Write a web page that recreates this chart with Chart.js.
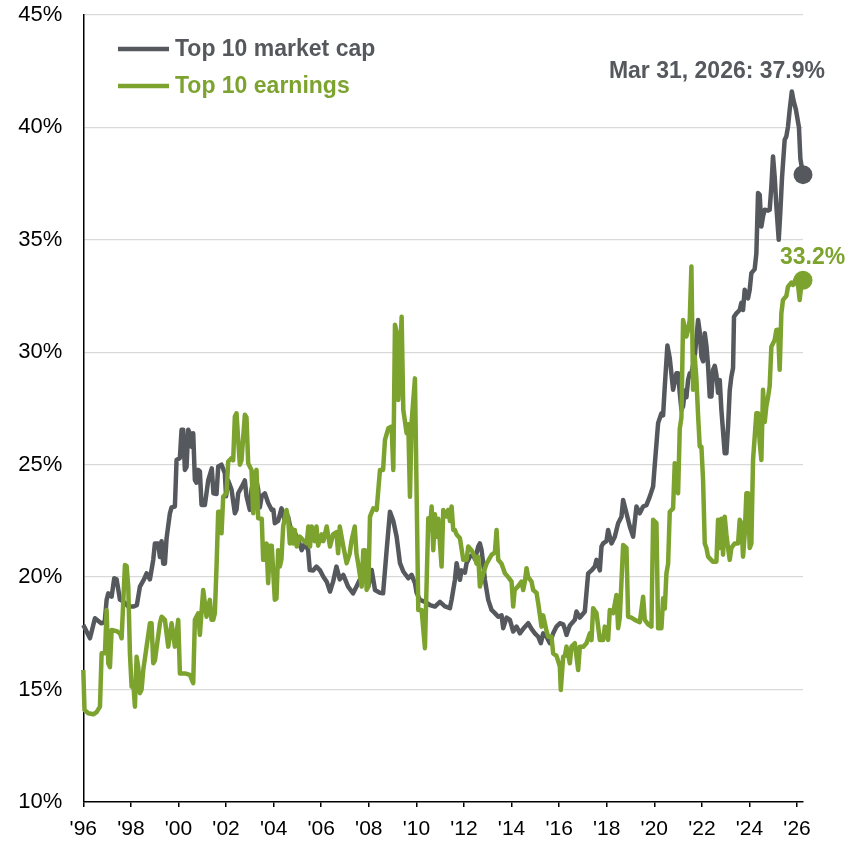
<!DOCTYPE html>
<html>
<head>
<meta charset="utf-8">
<script src="https://cdn.jsdelivr.net/npm/chart.js@4.4.1/dist/chart.umd.min.js"></script>
<style>
  body { margin: 0; background: #fff; }
  #wrap { width: 857px; height: 842px; }
</style>
</head>
<body>
<div id="wrap"><canvas id="topTenChart" width="857" height="842"></canvas></div>
<script>
// series names and end-of-series label
const seriesNames = ["Top 10 market cap", "Top 10 earnings"];
const endDate = "Mar 31, 2026";

// x axis tick years
const tickYears = [1996, 1998, 2000, 2002, 2004, 2006, 2008, 2010, 2012, 2014, 2016, 2018, 2020, 2022, 2024, 2026];
// y axis tick values (%)
const tickPercents = [10, 15, 20, 25, 30, 35, 40, 45];

// top 10 share of market cap (%)
const capYears = [
  1996.00,1996.28,1996.49,1996.75,1996.90,1996.98,1997.05,1997.19,1997.30,1997.40,1997.54,1997.70,1997.90,1998.10,1998.25,1998.38,1998.55,1998.66,1998.80,1998.94,
  1999.01,1999.15,1999.22,1999.29,1999.36,1999.43,1999.50,1999.64,1999.71,1999.85,1999.92,2000.06,2000.13,2000.20,2000.27,2000.34,2000.41,2000.48,2000.55,2000.62,
  2000.69,2000.76,2000.83,2000.90,2000.97,2001.11,2001.25,2001.40,2001.47,2001.60,2001.67,2001.81,2001.95,2002.00,2002.09,2002.23,2002.37,2002.44,2002.51,2002.65,
  2002.79,2002.86,2003.00,2003.07,2003.21,2003.35,2003.42,2003.50,2003.63,2003.77,2003.92,2003.99,2004.05,2004.19,2004.33,2004.47,2004.61,2004.75,2004.90,2005.04,
  2005.18,2005.31,2005.45,2005.52,2005.66,2005.80,2005.95,2006.09,2006.23,2006.37,2006.50,2006.64,2006.78,2006.93,2007.13,2007.34,2007.49,2007.62,2007.84,2007.98,
  2008.12,2008.26,2008.47,2008.60,2008.75,2008.89,2009.03,2009.17,2009.31,2009.45,2009.66,2009.80,2009.94,2010.01,2010.15,2010.36,2010.57,2010.78,2010.99,2011.20,
  2011.41,2011.48,2011.62,2011.69,2011.83,2011.90,2012.04,2012.11,2012.25,2012.39,2012.46,2012.60,2012.67,2012.74,2012.81,2012.88,2013.02,2013.16,2013.30,2013.44,
  2013.58,2013.65,2013.79,2013.93,2014.07,2014.21,2014.35,2014.49,2014.70,2014.84,2014.98,2015.12,2015.23,2015.33,2015.47,2015.61,2015.75,2015.89,2016.03,2016.17,
  2016.24,2016.31,2016.45,2016.66,2016.73,2016.87,2017.08,2017.22,2017.36,2017.50,2017.57,2017.71,2017.78,2017.85,2017.99,2018.06,2018.20,2018.34,2018.48,2018.62,
  2018.69,2018.83,2018.97,2019.11,2019.25,2019.39,2019.53,2019.67,2019.81,2019.95,2020.02,2020.16,2020.30,2020.37,2020.44,2020.55,2020.65,2020.79,2020.93,2021.00,
  2021.07,2021.14,2021.21,2021.28,2021.35,2021.42,2021.49,2021.56,2021.70,2021.77,2021.84,2021.91,2021.98,2022.05,2022.12,2022.19,2022.26,2022.33,2022.40,2022.47,
  2022.54,2022.61,2022.68,2022.75,2022.82,2022.96,2023.03,2023.10,2023.17,2023.24,2023.31,2023.35,2023.45,2023.59,2023.66,2023.73,2023.80,2023.87,2023.94,2024.01,
  2024.08,2024.22,2024.29,2024.36,2024.43,2024.50,2024.57,2024.64,2024.78,2024.85,2024.92,2024.99,2025.06,2025.13,2025.23,2025.30,2025.37,2025.48,2025.55,2025.62,
  2025.69,2025.78,2025.85,2025.95,2026.08,2026.14,2026.25
];
const capValues = [
  17.87,17.28,18.17,17.95,18.0,18.99,19.28,19.13,19.95,19.9,19.0,18.9,18.69,18.69,18.75,19.58,19.9,20.17,19.9,20.77,
  21.5,21.5,20.9,21.6,20.6,20.6,21.73,22.84,23.1,23.14,25.21,25.3,26.55,26.55,24.77,24.9,26.55,26.4,25.8,26.4,
  24.32,24.2,24.77,24.7,23.21,23.21,24.3,24.84,23.73,23.7,24.92,25.0,24.62,23.6,24.3,23.9,22.84,23.0,23.73,24.0,
  24.3,23.6,22.99,23.9,24.62,23.9,23.1,23.6,23.73,23.3,22.99,23.0,22.4,22.5,23.06,22.5,22.69,21.95,21.95,21.65,
  21.2,21.5,21.2,20.32,20.3,20.47,20.3,20.02,19.8,19.36,19.8,20.47,19.9,20.1,19.58,19.28,19.6,19.88,20.02,19.58,
  20.32,19.43,19.3,19.28,21.2,22.91,22.5,21.8,20.62,20.25,19.95,20.1,19.73,19.3,18.99,18.9,18.76,18.69,18.9,18.7,
  18.62,18.99,19.88,20.62,19.88,20.3,20.2,20.62,20.91,21.0,20.8,21.36,21.5,21.2,20.6,19.88,18.99,18.54,18.4,18.24,
  18.3,17.73,18.2,18.1,17.58,17.8,17.5,17.7,17.95,17.7,17.5,17.35,17.06,17.5,17.35,17.06,17.5,17.8,17.95,17.9,
  17.7,17.43,17.85,18.1,18.47,18.2,18.47,20.17,20.3,20.47,20.77,20.3,21.36,21.5,21.6,22.1,21.5,21.8,22.4,22.69,
  23.43,22.84,22.25,21.8,23.14,22.84,23.14,23.2,23.58,24.03,25.0,26.85,27.29,27.2,28.47,30.3,29.74,28.33,29.07,29.07,
  28.2,27.44,27.6,28.3,28.0,28.77,29.07,29.07,29.81,30.6,31.44,30.9,29.81,29.6,30.85,30.3,29.4,28.03,28.03,29.22,
  29.4,29.0,28.2,28.77,27.44,25.51,25.51,26.7,28.3,28.92,29.3,31.58,31.73,31.88,32.2,31.88,32.78,32.6,32.4,32.78,
  33.52,33.7,34.4,37.08,37.0,35.59,36.04,36.34,36.3,36.34,37.37,38.71,37.8,36.5,35.0,36.3,37.8,39.45,39.6,40.04,
  40.78,41.6,41.2,40.8,40.0,38.6,37.9
];

// top 10 share of earnings (%)
const earnYears = [
  1996.00,1996.05,1996.21,1996.42,1996.56,1996.70,1996.77,1996.91,1996.98,1997.05,1997.12,1997.19,1997.40,1997.54,1997.61,1997.75,1997.82,1997.89,1997.96,1998.03,
  1998.10,1998.17,1998.24,1998.31,1998.38,1998.45,1998.52,1998.66,1998.80,1998.87,1998.94,1999.01,1999.22,1999.29,1999.43,1999.57,1999.71,1999.85,1999.99,2000.06,
  2000.27,2000.48,2000.62,2000.69,2000.83,2000.90,2000.97,2001.04,2001.18,2001.25,2001.32,2001.39,2001.46,2001.53,2001.60,2001.67,2001.74,2001.81,2001.88,2002.02,
  2002.09,2002.23,2002.30,2002.37,2002.44,2002.51,2002.58,2002.65,2002.79,2002.86,2002.93,2003.07,2003.14,2003.21,2003.28,2003.35,2003.50,2003.56,2003.63,2003.70,
  2003.77,2003.84,2003.92,2004.05,2004.12,2004.19,2004.26,2004.33,2004.40,2004.54,2004.61,2004.68,2004.75,2004.82,2004.89,2004.97,2005.10,2005.24,2005.39,2005.46,
  2005.53,2005.60,2005.73,2005.80,2005.87,2006.02,2006.09,2006.23,2006.37,2006.50,2006.64,2006.71,2006.78,2006.93,2007.07,2007.20,2007.27,2007.41,2007.48,2007.55,
  2007.70,2007.77,2007.84,2007.91,2007.98,2008.05,2008.19,2008.33,2008.47,2008.60,2008.68,2008.82,2008.96,2009.03,2009.10,2009.17,2009.24,2009.38,2009.45,2009.59,
  2009.66,2009.73,2009.80,2009.94,2010.08,2010.22,2010.36,2010.50,2010.57,2010.64,2010.71,2010.78,2010.85,2010.92,2010.99,2011.06,2011.13,2011.27,2011.34,2011.41,
  2011.48,2011.55,2011.62,2011.69,2011.83,2011.97,2012.11,2012.18,2012.32,2012.46,2012.53,2012.60,2012.67,2012.81,2012.95,2013.16,2013.30,2013.37,2013.44,2013.58,
  2013.72,2013.86,2014.00,2014.07,2014.13,2014.28,2014.42,2014.49,2014.56,2014.63,2014.70,2014.84,2014.91,2015.05,2015.12,2015.26,2015.33,2015.47,2015.54,2015.68,
  2015.75,2015.89,2016.03,2016.07,2016.17,2016.24,2016.31,2016.45,2016.52,2016.66,2016.80,2016.87,2017.01,2017.15,2017.29,2017.36,2017.43,2017.57,2017.71,2017.85,
  2017.92,2018.06,2018.13,2018.27,2018.41,2018.48,2018.55,2018.69,2018.83,2018.90,2019.04,2019.18,2019.39,2019.53,2019.60,2019.74,2019.88,2019.95,2020.09,2020.16,
  2020.30,2020.37,2020.44,2020.51,2020.58,2020.65,2020.79,2020.86,2020.93,2021.00,2021.07,2021.14,2021.21,2021.35,2021.42,2021.49,2021.56,2021.63,2021.70,2021.77,
  2021.84,2021.91,2021.98,2022.05,2022.12,2022.19,2022.26,2022.46,2022.61,2022.68,2022.75,2022.82,2022.89,2022.96,2023.03,2023.10,2023.17,2023.24,2023.38,2023.52,
  2023.59,2023.66,2023.73,2023.80,2023.87,2023.94,2024.01,2024.08,2024.15,2024.29,2024.36,2024.43,2024.50,2024.57,2024.64,2024.71,2024.78,2024.85,2024.92,2025.06,
  2025.13,2025.20,2025.27,2025.34,2025.41,2025.55,2025.62,2025.76,2025.83,2025.97,2026.04,2026.11,2026.18,2026.25
];
const earnValues = [
  15.87,14.09,13.95,13.9,14.0,14.24,16.61,16.61,18.54,16.17,16.0,17.65,17.6,17.5,17.28,20.54,20.5,19.58,16.6,15.13,
  15.3,14.24,16.46,16.0,14.84,15.0,15.87,16.91,17.95,17.95,16.17,16.3,17.95,18.24,18.1,16.91,17.95,16.91,18.1,15.72,
  15.72,15.65,15.28,18.1,18.39,17.43,18.47,19.43,18.24,18.7,18.99,18.1,18.1,18.4,20.47,22.91,22.91,21.95,23.58,23.73,
  25.14,25.29,25.2,27.14,27.29,26.1,25.0,25.2,27.22,27.1,25.07,24.77,22.84,24.47,24.77,22.62,22.6,20.77,20.77,21.5,
  19.73,21.4,21.4,18.99,19.05,21.2,20.47,20.8,22.25,22.99,22.6,21.5,22.2,21.5,22.1,21.36,21.8,21.65,21.5,22.25,
  21.36,22.25,21.6,22.25,21.4,21.9,21.6,22.25,21.36,21.9,22.0,21.06,22.25,21.36,20.62,21.06,21.6,22.25,21.06,20.62,
  19.58,21.2,21.2,19.43,19.6,22.69,23.06,22.99,24.77,24.77,26.1,26.62,26.7,24.77,31.22,30.9,27.88,31.58,27.44,26.4,
  26.8,23.58,26.9,28.84,18.54,18.54,16.84,22.62,22.1,23.14,21.2,22.8,21.8,22.6,21.5,20.47,22.99,22.7,22.99,22.5,
  23.14,22.1,22.1,21.9,21.73,20.77,20.77,21.36,21.2,20.9,20.6,20.9,19.58,20.17,20.6,20.99,21.1,22.1,20.77,20.6,
  20.17,20.0,19.8,18.69,19.43,19.6,19.8,19.43,19.8,20.4,20.0,19.8,19.43,19.3,18.84,17.8,18.3,17.6,17.35,17.35,
  16.61,16.5,16.02,14.98,16.46,16.5,16.91,16.17,16.91,17.06,15.87,16.9,16.9,17.06,17.5,17.2,18.62,18.4,17.21,17.21,
  17.8,17.21,18.54,18.4,19.21,17.73,18.2,21.43,21.3,18.24,18.2,18.1,18.0,19.13,18.1,17.9,17.8,22.55,22.4,17.73,
  17.73,19.06,18.6,20.17,20.6,22.91,23.06,25.07,23.88,23.73,26.6,27.1,31.44,30.7,31.0,31.44,33.81,28.33,29.8,28.8,
  27.2,25.8,25.8,24.32,21.5,21.3,20.91,20.69,20.69,22.55,21.3,22.6,21.0,22.69,21.9,21.3,20.77,21.3,21.5,21.5,
  22.55,22.4,20.91,21.9,23.73,23.73,21.3,21.5,25.21,27.29,27.29,26.0,25.21,28.33,26.9,27.6,28.0,28.5,30.25,30.55,
  30.99,31.0,29.22,31.73,32.33,32.5,32.92,33.1,33.0,33.3,33.0,32.33,33.0,33.2
];

const greyColor = "#55585c";
const greenColor = "#7da32f";
const fontName = "'Liberation Sans', Arial, sans-serif";

function toPoints(xs, ys) {
  return xs.map((x, i) => ({ x: x, y: ys[i] }));
}

// only the last point gets a dot
function endDot(ctx) {
  return ctx.dataIndex === ctx.dataset.data.length - 1 ? 9.5 : 0;
}

// legend at top left and end-of-line labels
const labelPlugin = {
  id: "labelPlugin",
  afterDatasetsDraw(chart) {
    const ctx = chart.ctx;
    ctx.save();
    ctx.font = "bold 23px " + fontName;
    ctx.textBaseline = "middle";
    const legendColors = [greyColor, greenColor];
    const legendY = [49, 86];
    seriesNames.forEach((name, i) => {
      ctx.strokeStyle = legendColors[i];
      ctx.lineWidth = 4.5;
      ctx.beginPath();
      ctx.moveTo(118, legendY[i]);
      ctx.lineTo(169, legendY[i]);
      ctx.stroke();
      ctx.fillStyle = legendColors[i];
      ctx.textAlign = "left";
      ctx.fillText(name, 175, legendY[i] + 1);
    });

    // end labels next to the last points
    const capMeta = chart.getDatasetMeta(0).data;
    const earnMeta = chart.getDatasetMeta(1).data;
    const capEnd = capMeta[capMeta.length - 1];
    const earnEnd = earnMeta[earnMeta.length - 1];
    ctx.textBaseline = "alphabetic";
    ctx.fillStyle = greyColor;
    ctx.textAlign = "right";
    ctx.fillText(endDate + ": " + capValues[capValues.length - 1].toFixed(1) + "%", capEnd.x + 22, capEnd.y - 97);
    ctx.fillStyle = greenColor;
    ctx.textAlign = "left";
    ctx.fillText(earnValues[earnValues.length - 1].toFixed(1) + "%", earnEnd.x - 23, earnEnd.y - 16);
    ctx.restore();
  }
};

const chart = new Chart(document.getElementById("topTenChart").getContext("2d"), {
  type: "line",
  data: {
    datasets: [
      {
        label: seriesNames[0],
        data: toPoints(capYears, capValues),
        borderColor: greyColor,
        backgroundColor: greyColor,
        borderWidth: 4.5,
        borderJoinStyle: "round",
        pointRadius: endDot,
        pointHoverRadius: endDot,
        pointBorderWidth: 0,
        tension: 0,
        clip: false,
        order: 2,
      },
      {
        label: seriesNames[1],
        data: toPoints(earnYears, earnValues),
        borderColor: greenColor,
        backgroundColor: greenColor,
        borderWidth: 4.5,
        borderJoinStyle: "round",
        pointRadius: endDot,
        pointHoverRadius: endDot,
        pointBorderWidth: 0,
        tension: 0,
        clip: false,
        order: 1,
      },
    ],
  },
  options: {
    responsive: false,
    animation: false,
    events: [],
    layout: { padding: { top: 15, right: 54, bottom: 0, left: 0 } },
    plugins: {
      legend: { display: false },
      tooltip: { enabled: false },
    },
    scales: {
      x: {
        type: "linear",
        min: 1996,
        max: 2026.25,
        afterFit: (scale) => {
          scale.height = 40;
          scale.paddingLeft = 0;
          scale.paddingRight = 0;
        },
        afterBuildTicks: (scale) => { scale.ticks = tickYears.map(v => ({ value: v })); },
        grid: {
          drawOnChartArea: false,
          drawTicks: true,
          tickLength: 5,
          color: "#000",
          lineWidth: 1.5,
        },
        border: { color: "#000", width: 1.5 },
        ticks: {
          color: "#000",
          padding: 10,
          maxRotation: 0,
          autoSkip: false,
          font: { family: fontName, size: 21 },
          callback: (v) => "'" + String(v).slice(2),
        },
      },
      y: {
        min: 10,
        max: 45,
        afterFit: (scale) => {
          scale.width = 83.3;
          scale.paddingTop = 0;
          scale.paddingBottom = 0;
        },
        afterBuildTicks: (scale) => { scale.ticks = tickPercents.map(v => ({ value: v })); },
        grid: {
          drawTicks: false,
          color: (c) => (c.tick && c.tick.value === 10 ? "rgba(0,0,0,0)" : "#d9d9d9"),
          lineWidth: 1.3,
        },
        border: { color: "#000", width: 1.5 },
        ticks: {
          color: "#000",
          padding: 21,
          font: { family: fontName, size: 22 },
          callback: (v) => v + "%",
        },
      },
    },
  },
  plugins: [labelPlugin],
});
</script>
</body>
</html>
